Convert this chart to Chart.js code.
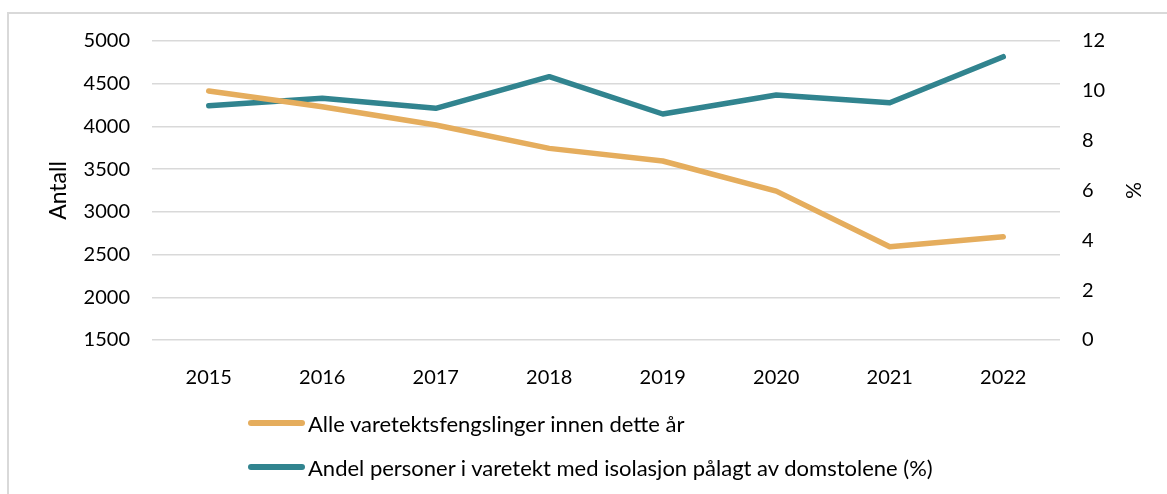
<!DOCTYPE html>
<html>
<head>
<meta charset="utf-8">
<script src="https://cdn.jsdelivr.net/npm/chart.js@4"></script>
<style>
  html, body { margin: 0; padding: 0; background: #fff; }
  #wrap { position: relative; width: 1167px; height: 494px; overflow: hidden; font-family: Lato, sans-serif; }
  #frame { position: absolute; left: 7px; top: 12px; width: 1200px; height: 520px; border-left: 2px solid #d9d9d9; border-top: 2px solid #d9d9d9; }
  #box { position: absolute; left: 0; top: 0; width: 1167px; height: 494px; }
  #legend { position: absolute; left: 248px; top: 408px; }
  .item { display: flex; align-items: center; height: 30px; margin-bottom: 14px; font-size: 22px; color: #000; white-space: nowrap; }
  .swatch { width: 57px; height: 6px; border-radius: 3px; margin-right: 3px; }
</style>
</head>
<body>
<div id="wrap">
  <div id="frame"></div>
  <div id="box"><canvas id="chart"></canvas></div>
  <div id="legend"></div>
</div>
<script>
// data
const years = ['2015', '2016', '2017', '2018', '2019', '2020', '2021', '2022'];
const fengslinger = [4415, 4231, 4016, 3743, 3595, 3243, 2591, 2708];
const isolasjonPct = [9.40, 9.70, 9.30, 10.57, 9.07, 9.83, 9.52, 11.37];

const seriesNames = [
    'Alle varetektsfengslinger innen dette år',
    'Andel personer i varetekt med isolasjon pålagt av domstolene (%)'
];
const seriesColors = ['#e5ad5d', '#31848f'];

const tickFont = { family: 'Lato', size: 20 };
const textColor = '#000';

const ctx = document.getElementById('chart').getContext('2d');
new Chart(ctx, {
    type: 'line',
    data: {
        labels: years,
        datasets: [{
            label: seriesNames[0],
            data: fengslinger,
            yAxisID: 'y',
            borderColor: seriesColors[0],
            backgroundColor: seriesColors[0],
            borderWidth: 5.5,
            borderCapStyle: 'round',
            borderJoinStyle: 'round',
            pointRadius: 0,
            tension: 0
        }, {
            label: seriesNames[1],
            data: isolasjonPct,
            yAxisID: 'y2',
            borderColor: seriesColors[1],
            backgroundColor: seriesColors[1],
            borderWidth: 5.5,
            borderCapStyle: 'round',
            borderJoinStyle: 'round',
            pointRadius: 0,
            tension: 0
        }]
    },
    options: {
        responsive: true,
        maintainAspectRatio: false,
        animation: false,
        layout: { padding: { top: 41, left: 0, right: 0, bottom: 0 } },
        scales: {
            x: {
                offset: true,
                grid: { display: false },
                border: { display: false },
                ticks: { color: textColor, font: tickFont, padding: 18, maxRotation: 0 },
                afterFit: (s) => { s.height = 154; }
            },
            y: {
                position: 'left',
                min: 1500,
                max: 5000,
                grid: { color: '#d9d9d9', lineWidth: 1.5, drawTicks: false },
                border: { display: false },
                ticks: { stepSize: 500, color: textColor, font: tickFont, padding: 22, callback: (v) => String(v) },
                title: { display: true, text: 'Antall', color: textColor, font: { family: 'Lato', size: 23 }, padding: { top: 45, bottom: 0 } },
                afterFit: (s) => { s.width = 152; }
            },
            y2: {
                position: 'right',
                min: 0,
                max: 12,
                grid: { display: false, drawTicks: false },
                border: { display: false },
                ticks: { stepSize: 2, color: textColor, font: tickFont, padding: 22 },
                title: { display: true, text: '%', color: textColor, font: { family: 'Lato', size: 21 }, padding: { top: 22, bottom: 0 } },
                afterFit: (s) => { s.width = 107; }
            }
        },
        plugins: {
            legend: { display: false },
            tooltip: { enabled: false }
        }
    }
});

// legend as plain html, built from the same names/colours
const legendEl = document.getElementById('legend');
seriesNames.forEach((name, i) => {
    const row = document.createElement('div');
    row.className = 'item';
    const sw = document.createElement('span');
    sw.className = 'swatch';
    sw.style.background = seriesColors[i];
    const txt = document.createElement('span');
    txt.textContent = name;
    row.appendChild(sw);
    row.appendChild(txt);
    legendEl.appendChild(row);
});
</script>
</body>
</html>
